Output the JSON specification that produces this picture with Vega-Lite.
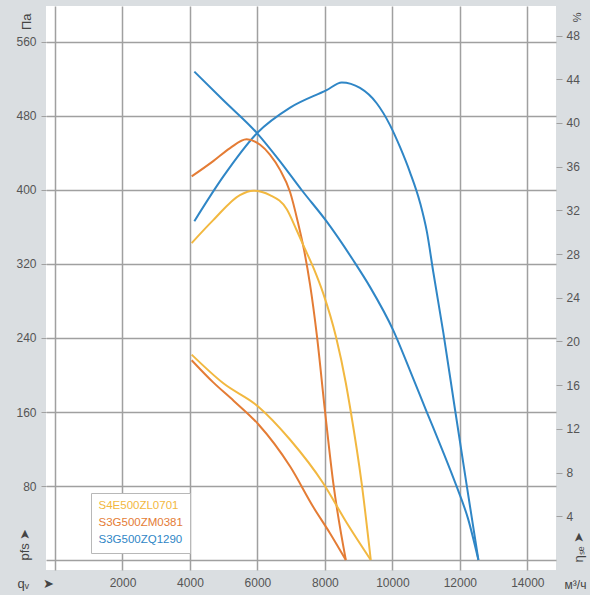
{
  "$schema": "https://vega.github.io/schema/vega-lite/v6.json",
  "width": 510,
  "height": 564,
  "autosize": "none",
  "padding": {"left": 46, "top": 6, "right": 34, "bottom": 25},
  "background": "#dadee1",
  "config": {
    "view": {"fill": "white", "stroke": null},
    "font": "Liberation Sans",
    "axis": {
      "labelFont": "Liberation Sans",
      "labelFontSize": 12,
      "labelColor": "#555555",
      "titleFont": "Liberation Sans",
      "titleFontWeight": "normal",
      "titleColor": "#444444",
      "titleFontSize": 13,
      "domain": false,
      "gridColor": "#a0a0a0",
      "gridWidth": 1.5,
      "tickColor": "#a0a0a0"
    },
    "legend": {
      "orient": "none",
      "legendX": 45,
      "legendY": 487,
      "title": null,
      "symbolOpacity": 0,
      "symbolSize": 0,
      "symbolStrokeWidth": 0,
      "labelOffset": -11,
      "labelFont": "Liberation Sans",
      "labelFontSize": 11.5,
      "rowPadding": 4,
      "padding": 7,
      "strokeColor": "#b8b8b8",
      "fillColor": "white"
    },
    "line": {"strokeWidth": 2, "interpolate": "monotone"}
  },
  "datasets": {
    "pressure": [
      {"fan": "S3G500ZQ1290", "q": 4130, "p": 528},
      {"fan": "S3G500ZQ1290", "q": 4990, "p": 497},
      {"fan": "S3G500ZQ1290", "q": 6000, "p": 461},
      {"fan": "S3G500ZQ1290", "q": 6670, "p": 431},
      {"fan": "S3G500ZQ1290", "q": 7310, "p": 400},
      {"fan": "S3G500ZQ1290", "q": 8050, "p": 366},
      {"fan": "S3G500ZQ1290", "q": 8840, "p": 324},
      {"fan": "S3G500ZQ1290", "q": 9340, "p": 295},
      {"fan": "S3G500ZQ1290", "q": 10030, "p": 248},
      {"fan": "S3G500ZQ1290", "q": 10520, "p": 205},
      {"fan": "S3G500ZQ1290", "q": 11020, "p": 160},
      {"fan": "S3G500ZQ1290", "q": 11470, "p": 120},
      {"fan": "S3G500ZQ1290", "q": 11910, "p": 79},
      {"fan": "S3G500ZQ1290", "q": 12240, "p": 45},
      {"fan": "S3G500ZQ1290", "q": 12550, "p": 0},
      {"fan": "S3G500ZM0381", "q": 4050, "p": 216},
      {"fan": "S3G500ZM0381", "q": 4690, "p": 192},
      {"fan": "S3G500ZM0381", "q": 5300, "p": 172},
      {"fan": "S3G500ZM0381", "q": 6020, "p": 147},
      {"fan": "S3G500ZM0381", "q": 6970, "p": 101},
      {"fan": "S3G500ZM0381", "q": 7660, "p": 57},
      {"fan": "S3G500ZM0381", "q": 8150, "p": 29},
      {"fan": "S3G500ZM0381", "q": 8620, "p": 0},
      {"fan": "S4E500ZL0701", "q": 4050, "p": 222},
      {"fan": "S4E500ZL0701", "q": 4990, "p": 191},
      {"fan": "S4E500ZL0701", "q": 6020, "p": 166},
      {"fan": "S4E500ZL0701", "q": 6970, "p": 130},
      {"fan": "S4E500ZL0701", "q": 7950, "p": 83},
      {"fan": "S4E500ZL0701", "q": 8650, "p": 40},
      {"fan": "S4E500ZL0701", "q": 9360, "p": 0}
    ],
    "efficiency": [
      {"fan": "S3G500ZQ1290", "q": 4130, "eta": 31.0},
      {"fan": "S3G500ZQ1290", "q": 4990, "eta": 35.1},
      {"fan": "S3G500ZQ1290", "q": 6000, "eta": 39.1},
      {"fan": "S3G500ZQ1290", "q": 6970, "eta": 41.4},
      {"fan": "S3G500ZQ1290", "q": 8050, "eta": 43.0},
      {"fan": "S3G500ZQ1290", "q": 8500, "eta": 43.7},
      {"fan": "S3G500ZQ1290", "q": 9040, "eta": 43.2},
      {"fan": "S3G500ZQ1290", "q": 9535, "eta": 41.8},
      {"fan": "S3G500ZQ1290", "q": 9930, "eta": 39.8},
      {"fan": "S3G500ZQ1290", "q": 10225, "eta": 37.8},
      {"fan": "S3G500ZQ1290", "q": 10520, "eta": 35.5},
      {"fan": "S3G500ZQ1290", "q": 10820, "eta": 32.7},
      {"fan": "S3G500ZQ1290", "q": 11025, "eta": 30.0},
      {"fan": "S3G500ZQ1290", "q": 11210, "eta": 26.4},
      {"fan": "S3G500ZQ1290", "q": 11510, "eta": 20.8},
      {"fan": "S3G500ZQ1290", "q": 11860, "eta": 13.7},
      {"fan": "S3G500ZQ1290", "q": 12200, "eta": 6.9},
      {"fan": "S3G500ZQ1290", "q": 12550, "eta": 0},
      {"fan": "S3G500ZM0381", "q": 4050, "eta": 35.1},
      {"fan": "S3G500ZM0381", "q": 4690, "eta": 36.5},
      {"fan": "S3G500ZM0381", "q": 5190, "eta": 37.7},
      {"fan": "S3G500ZM0381", "q": 5680, "eta": 38.5},
      {"fan": "S3G500ZM0381", "q": 6080, "eta": 38.0},
      {"fan": "S3G500ZM0381", "q": 6370, "eta": 37.1},
      {"fan": "S3G500ZM0381", "q": 6670, "eta": 35.7},
      {"fan": "S3G500ZM0381", "q": 6965, "eta": 33.7},
      {"fan": "S3G500ZM0381", "q": 7200, "eta": 30.9},
      {"fan": "S3G500ZM0381", "q": 7380, "eta": 28.4},
      {"fan": "S3G500ZM0381", "q": 7560, "eta": 25.2},
      {"fan": "S3G500ZM0381", "q": 7760, "eta": 20.6},
      {"fan": "S3G500ZM0381", "q": 8000, "eta": 13.7},
      {"fan": "S3G500ZM0381", "q": 8250, "eta": 7.0},
      {"fan": "S3G500ZM0381", "q": 8620, "eta": 0},
      {"fan": "S4E500ZL0701", "q": 4050, "eta": 29.0},
      {"fan": "S4E500ZL0701", "q": 4690, "eta": 31.1},
      {"fan": "S4E500ZL0701", "q": 5480, "eta": 33.4},
      {"fan": "S4E500ZL0701", "q": 5880, "eta": 33.8},
      {"fan": "S4E500ZL0701", "q": 6370, "eta": 33.4},
      {"fan": "S4E500ZL0701", "q": 6870, "eta": 32.1},
      {"fan": "S4E500ZL0701", "q": 7160, "eta": 30.2},
      {"fan": "S4E500ZL0701", "q": 7420, "eta": 28.4},
      {"fan": "S4E500ZL0701", "q": 7680, "eta": 26.6},
      {"fan": "S4E500ZL0701", "q": 7950, "eta": 24.4},
      {"fan": "S4E500ZL0701", "q": 8330, "eta": 20.4},
      {"fan": "S4E500ZL0701", "q": 8620, "eta": 16.2},
      {"fan": "S4E500ZL0701", "q": 8760, "eta": 13.7},
      {"fan": "S4E500ZL0701", "q": 9090, "eta": 7.0},
      {"fan": "S4E500ZL0701", "q": 9360, "eta": 0}
    ]
  },
  "resolve": {
    "scale": {"x": "independent", "y": "independent"},
    "axis": {"x": "independent", "y": "independent"}
  },
  "layer": [
    {
      "data": {"name": "efficiency"},
      "mark": "line",
      "encoding": {
        "x": {"field": "q", "type": "quantitative", "scale": {"domain": [-267, 14850], "nice": false, "zero": false}, "axis": null},
        "y": {
          "field": "eta", "type": "quantitative",
          "scale": {"domain": [-0.92, 50.7], "nice": false, "zero": false},
          "axis": {
            "orient": "right",
            "values": [4, 8, 12, 16, 20, 24, 28, 32, 36, 40, 44, 48],
            "grid": false,
            "tickSize": 6,
            "labelPadding": 4,
            "title": "%",
            "titleFontSize": 11,
            "titleAngle": -90,
            "titleAlign": "right",
            "titleBaseline": "middle",
            "titleX": 21,
            "titleY": 6
          }
        },
        "color": {
          "field": "fan", "type": "nominal",
          "scale": {"domain": ["S4E500ZL0701", "S3G500ZM0381", "S3G500ZQ1290"], "range": ["#f2b840", "#e47c35", "#2f86c6"]},
          "legend": {"labelColor": {"expr": "scale('color', datum.value)"}}
        }
      }
    },
    {
      "data": {"name": "pressure"},
      "mark": "line",
      "encoding": {
        "x": {
          "field": "q", "type": "quantitative",
          "scale": {"domain": [-267, 14850], "nice": false, "zero": false},
          "axis": {
            "orient": "bottom",
            "values": [0, 2000, 4000, 6000, 8000, 10000, 12000, 14000],
            "format": "d",
            "labelExpr": "datum.value == 0 ? '' : datum.label",
            "grid": true,
            "ticks": false,
            "tickSize": 0,
            "labelPadding": 7,
            "title": "qᵥ\u00a0\u00a0\u00a0\u00a0➤",
            "titleAlign": "left",
            "titleBaseline": "middle",
            "titleX": -29,
            "titleY": 13
          }
        },
        "y": {
          "field": "p", "type": "quantitative",
          "scale": {"domain": [-10.8, 598.9], "nice": false, "zero": false},
          "axis": {
            "orient": "left",
            "values": [0, 80, 160, 240, 320, 400, 480, 560],
            "labelExpr": "datum.value == 0 ? '' : datum.label",
            "tickOpacity": {"condition": {"test": "datum.value == 0", "value": 0}, "value": 1},
            "grid": true,
            "tickSize": 5,
            "labelPadding": 5,
            "title": "Па",
            "titleAngle": -90,
            "titleAlign": "right",
            "titleBaseline": "middle",
            "titleX": -20,
            "titleY": 7
          }
        },
        "color": {
          "field": "fan", "type": "nominal",
          "legend": {"labelColor": {"expr": "scale('color', datum.value)"}}
        }
      }
    },
    {
      "data": {"name": "pressure"},
      "mark": {"type": "line", "opacity": 0},
      "encoding": {
        "x": {
          "field": "q", "type": "quantitative",
          "scale": {"domain": [-267, 14850], "nice": false, "zero": false},
          "axis": {
            "orient": "bottom",
            "grid": false,
            "labels": false,
            "ticks": false,
            "title": "м³/ч",
            "titleFontSize": 12,
            "titleAlign": "center",
            "titleBaseline": "middle",
            "titleX": 529,
            "titleY": 14
          }
        },
        "y": {
          "field": "p", "type": "quantitative",
          "scale": {"domain": [-10.8, 598.9], "nice": false, "zero": false},
          "axis": {
            "orient": "left",
            "grid": false,
            "labels": false,
            "ticks": false,
            "title": "pfs ➤",
            "titleAngle": -90,
            "titleAlign": "left",
            "titleBaseline": "middle",
            "titleX": -22,
            "titleY": 554
          }
        },
        "detail": {"field": "fan", "type": "nominal"}
      }
    },
    {
      "data": {"name": "efficiency"},
      "mark": {"type": "line", "opacity": 0},
      "encoding": {
        "x": {"field": "q", "type": "quantitative", "scale": {"domain": [-267, 14850], "nice": false, "zero": false}, "axis": null},
        "y": {
          "field": "eta", "type": "quantitative",
          "scale": {"domain": [-0.92, 50.7], "nice": false, "zero": false},
          "axis": {
            "orient": "right",
            "grid": false,
            "labels": false,
            "ticks": false,
            "title": "ηₛₑ ➤",
            "titleAngle": -90,
            "titleAlign": "left",
            "titleBaseline": "middle",
            "titleX": 22,
            "titleY": 556
          }
        },
        "detail": {"field": "fan", "type": "nominal"}
      }
    }
  ]
}
